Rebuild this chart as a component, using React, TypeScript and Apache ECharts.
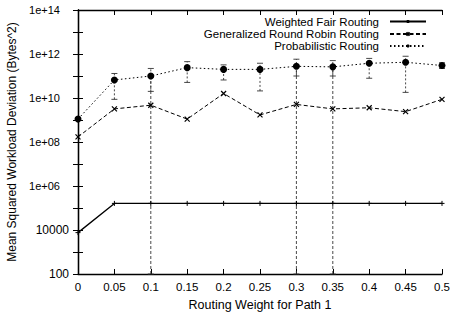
import React, { useEffect, useRef } from "react";
import * as echarts from "echarts";

const xValues = [0, 0.05, 0.1, 0.15, 0.2, 0.25, 0.3, 0.35, 0.4, 0.45, 0.5];
const weightedFair = [7600, 1.62e5, 1.62e5, 1.62e5, 1.62e5, 1.62e5, 1.62e5, 1.62e5, 1.62e5, 1.62e5, 1.62e5];
const roundRobin = [1.7e8, 3.2e9, 4.7e9, 1.1e9, 1.6e10, 1.7e9, 5.1e9, 3.2e9, 3.6e9, 2.4e9, 8.7e9];
const roundRobinLow: (number | null)[] = [null, null, 100, null, null, null, 100, 100, null, null, null];
const roundRobinHigh: (number | null)[] = [null, null, 1e11, null, null, null, 3e11, 3e11, null, null, null];
const probabilistic = [1.1e9, 6.6e10, 1e11, 2.4e11, 2e11, 2e11, 2.75e11, 2.6e11, 3.8e11, 4.2e11, 3e11];
const probLow: (number | null)[] = [null, 8.7e9, 2e10, 5.1e10, 6.6e10, 2.1e10, 1e11, 1e11, 7.9e10, 1.8e10, 2.2e11];
const probHigh: (number | null)[] = [null, 1.3e11, 2.2e11, 4.5e11, 3.2e11, 3.8e11, 5.8e11, 5e11, 6.3e11, 7.9e11, 4e11];
const seriesNames = ["Weighted Fair Routing", "Generalized Round Robin Routing", "Probabilistic Routing"];

const FONT = "'Liberation Sans', Arial, Helvetica, sans-serif";

function pairs(vals: number[]) {
  return xValues.map((x, i) => [x, vals[i]]);
}
function errPairs(lo: (number | null)[], hi: (number | null)[]) {
  const out: number[][] = [];
  xValues.forEach((x, i) => {
    if (lo[i] != null && hi[i] != null) out.push([x, lo[i] as number, hi[i] as number]);
  });
  return out;
}

function errorRender(dash: number[]) {
  return (params: any, api: any) => {
    const x = api.value(0);
    const p1 = api.coord([x, api.value(1)]);
    const p2 = api.coord([x, api.value(2)]);
    const cap = 3;
    const style = { stroke: "#333", lineWidth: 0.9, lineDash: dash };
    return {
      type: "group",
      children: [
        { type: "line", shape: { x1: p1[0], y1: p1[1], x2: p2[0], y2: p2[1] }, style },
        { type: "line", shape: { x1: p1[0] - cap, y1: p1[1], x2: p1[0] + cap, y2: p1[1] }, style: { stroke: "#333", lineWidth: 0.9 } },
        { type: "line", shape: { x1: p2[0] - cap, y1: p2[1], x2: p2[0] + cap, y2: p2[1] }, style: { stroke: "#333", lineWidth: 0.9 } },
      ],
    };
  };
}

function yLabel(v: number) {
  const e = Math.round(Math.log10(v));
  if (e % 2 !== 0) return "";
  if (e <= 4) return String(Math.round(v));
  return "{e|1e+" + (e < 10 ? "0" + e : String(e)) + "}";
}

export default function App() {
  const ref = useRef<HTMLDivElement>(null);
  useEffect(() => {
    if (!ref.current) return;
    const chart = echarts.init(ref.current, undefined, { renderer: "svg" });
    const axisLine = { show: true, lineStyle: { color: "#000", width: 1.3 } };
    const tick = { show: true, inside: true, length: 5, lineStyle: { color: "#000", width: 1 } };
    const legendBase = {
      orient: "horizontal",
      right: 25,
      align: "right",
      padding: 0,
      itemWidth: 36,
      itemHeight: 4,
      textStyle: { fontSize: 11.5, lineHeight: 11, color: "#000", fontFamily: FONT, padding: [0, 6, 0, 0] },
      selectedMode: false,
    };
    chart.setOption({
      animation: false,
      backgroundColor: "#fff",
      textStyle: { fontFamily: FONT },
      grid: { left: 78, right: 10, top: 10, bottom: 38, containLabel: false, outerBoundsMode: "none" },
      legend: [
        { ...legendBase, top: 15.5, data: [seriesNames[0]] },
        { ...legendBase, top: 28, data: [seriesNames[1]] },
        { ...legendBase, top: 40, data: [seriesNames[2]] },
      ],
      xAxis: [
        {
          type: "value",
          min: 0,
          max: 0.5,
          interval: 0.05,
          position: "bottom",
          axisLine,
          axisTick: tick,
          splitLine: { show: false },
          axisLabel: {
            fontSize: 11.5,
            color: "#000",
            margin: 7,
            formatter: (v: number) => String(Number(v.toFixed(2))),
          },
          name: "Routing Weight for Path 1",
          nameLocation: "middle",
          nameGap: 24,
          nameTextStyle: { fontSize: 12.5, color: "#000" },
        },
        {
          type: "value",
          min: 0,
          max: 0.5,
          interval: 0.05,
          position: "top",
          axisLine,
          axisTick: tick,
          splitLine: { show: false },
          axisLabel: { show: false },
        },
      ],
      yAxis: [
        {
          type: "log",
          logBase: 10,
          min: 100,
          max: 1e14,
          interval: 1,
          position: "left",
          axisLine,
          axisTick: tick,
          splitLine: { show: false },
          axisLabel: {
            fontSize: 12,
            color: "#000",
            margin: 9,
            formatter: yLabel,
            rich: {
              e: {
                fontSize: 11,
                color: "#000",
                fontFamily: "'Liberation Sans Narrow', 'Liberation Sans', Arial, sans-serif",
                padding: [0, 9, 0, 0],
              },
            },
          },
          name: "Mean Squared Workload Deviation (Bytes^2)",
          nameLocation: "middle",
          nameGap: 50,
          nameTextStyle: { fontSize: 12, color: "#000" },
        },
        {
          type: "log",
          logBase: 10,
          min: 100,
          max: 1e14,
          interval: 1,
          position: "right",
          axisLine,
          axisTick: tick,
          splitLine: { show: false },
          axisLabel: { show: false },
        },
      ],
      series: [
        {
          name: seriesNames[0],
          type: "line",
          data: pairs(weightedFair),
          symbol: "path://M5,0L5,10M0,5L10,5",
          symbolSize: 5,
          itemStyle: { color: "#000", borderColor: "#000", borderWidth: 1 },
          lineStyle: { color: "#000", width: 1.3, type: "solid" },
          z: 3,
        },
        {
          name: seriesNames[1],
          type: "line",
          data: pairs(roundRobin),
          symbol: "path://M0,0L10,10M10,0L0,10",
          symbolSize: 5,
          itemStyle: { color: "#000", borderColor: "#000", borderWidth: 1.2 },
          lineStyle: { color: "#000", width: 1, type: [4, 2.5] },
          z: 3,
        },
        {
          name: seriesNames[2],
          type: "line",
          data: pairs(probabilistic),
          symbol: "circle",
          symbolSize: 7,
          itemStyle: { color: "#000" },
          lineStyle: { color: "#000", width: 1, type: [1.5, 2.5] },
          z: 3,
        },
        {
          type: "custom",
          data: errPairs(roundRobinLow, roundRobinHigh),
          renderItem: errorRender([3, 2]),
          encode: { x: 0, y: [1, 2] },
          z: 2,
          silent: true,
        },
        {
          type: "custom",
          data: errPairs(probLow, probHigh),
          renderItem: errorRender([2, 2]),
          encode: { x: 0, y: [1, 2] },
          z: 2,
          silent: true,
        },
      ],
    });
    return () => chart.dispose();
  }, []);
  return <div ref={ref} style={{ position: "absolute", left: 0, top: 0, width: 452, height: 312 }} />;
}
